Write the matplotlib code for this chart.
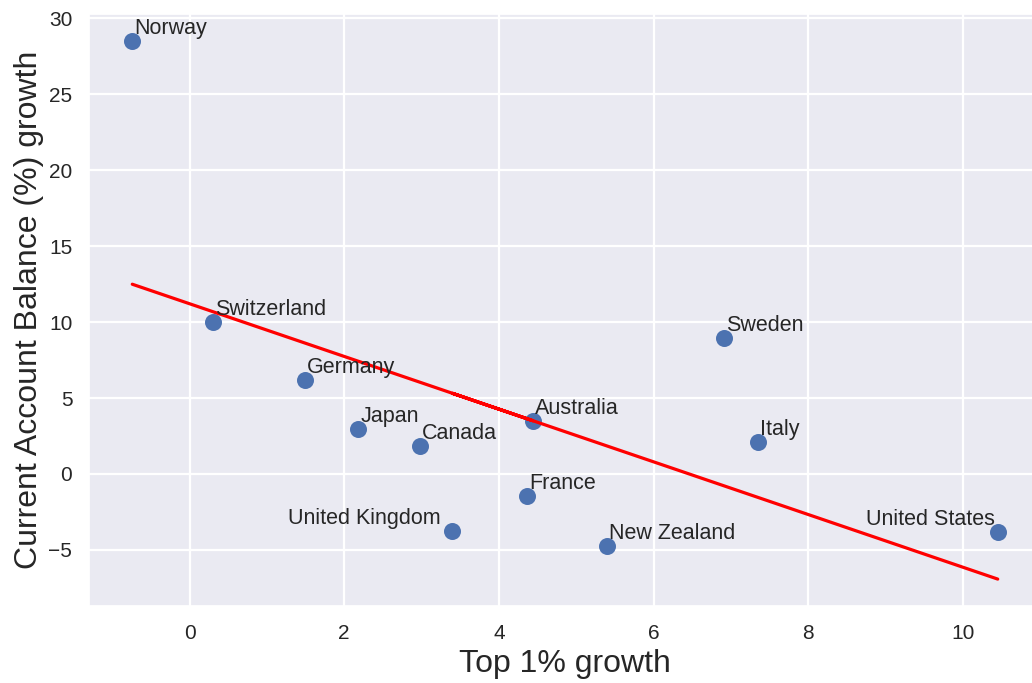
import numpy as np
import matplotlib.pyplot as plt
import seaborn as sns

countries = ['Norway', 'Switzerland', 'Germany', 'Japan', 'Canada', 'Australia',
             'France', 'United Kingdom', 'New Zealand', 'Sweden', 'Italy',
             'United States']
top1_growth = [-0.74, 0.31, 1.49, 2.18, 2.98, 4.44, 4.37, 3.40, 5.40, 6.91, 7.35, 10.45]
cab_growth = [28.5, 9.97, 6.2, 2.97, 1.85, 3.5, -1.45, -3.76, -4.75, 8.98, 2.11, -3.83]

sns.set_theme(style='darkgrid')
plt.rcParams['font.family'] = ['Liberation Sans', 'DejaVu Sans']

fig = plt.figure(figsize=(10.32, 6.83), dpi=100)
ax = fig.add_axes([89 / 1032, 77 / 683, 952 / 1032, 592 / 683])

x = np.array(top1_growth)
y = np.array(cab_growth)
ax.scatter(x, y, s=150, color='#4c72b0', zorder=3, linewidths=0)

# least squares fit
m, b = np.polyfit(x, y, 1)
ax.plot(x, m * x + b, color='red', lw=2.3, zorder=4)

# labels sit just above each point; two of them hang to the left
offsets = {'United Kingdom': (-12, 7), 'United States': (-3, 7)}
for name, xi, yi in zip(countries, x, y):
    dx, dy = offsets.get(name, (2, 7))
    ax.annotate(name, (xi, yi), xytext=(dx, dy), textcoords='offset pixels',
                ha='right' if dx < 0 else 'left', va='baseline',
                fontsize=15.5, color='#262626', zorder=5)

ax.grid(True, color='white', lw=1.6)
ax.tick_params(labelsize=15, colors='#262626')
ax.tick_params(axis='y', pad=6)
ax.tick_params(axis='x', pad=7)
ax.set_xlabel('Top 1% growth', fontsize=23, color='#262626', labelpad=4)
ax.set_ylabel('Current Account Balance (%) growth', fontsize=23, color='#262626',
              labelpad=3)

fig.savefig('out.png', dpi=100)
